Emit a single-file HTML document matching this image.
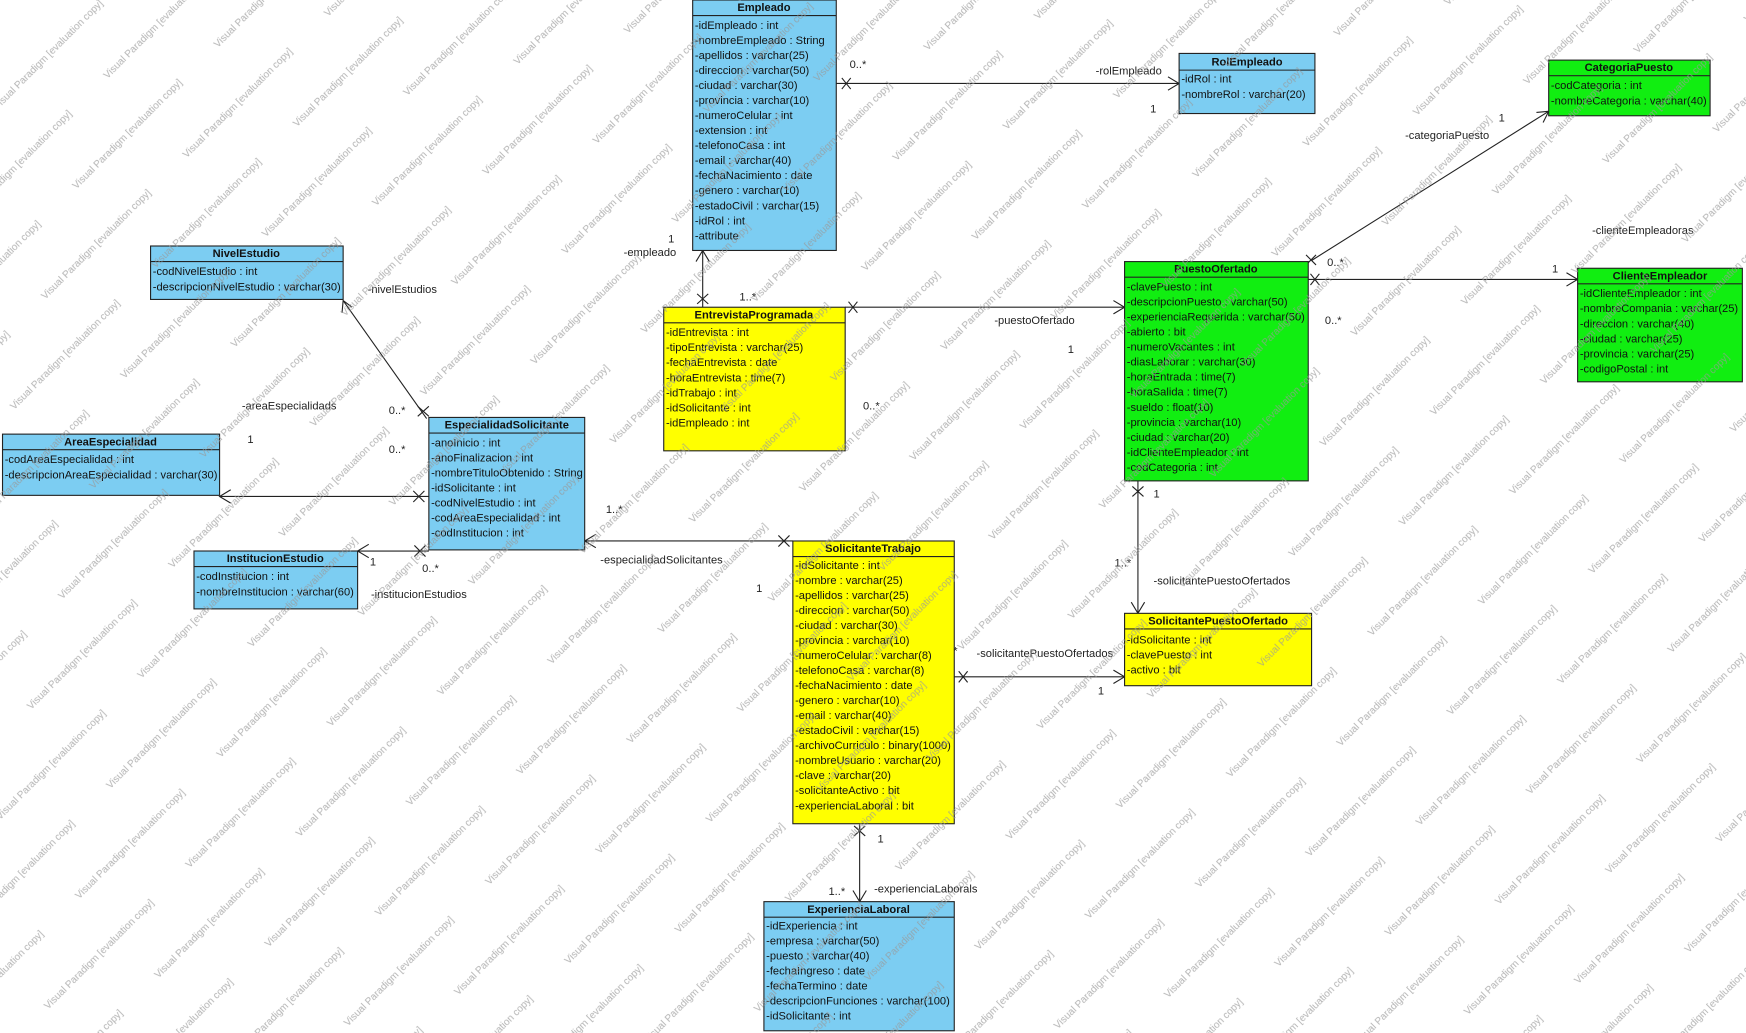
<!DOCTYPE html>
<html><head><meta charset="utf-8"><style>
html,body{margin:0;padding:0;background:#fff;width:1746px;height:1033px;overflow:hidden}
svg{position:absolute;left:0;top:0}
text{font-family:"Liberation Sans",sans-serif}
</style></head><body>
<svg width="1746" height="1033" viewBox="0 0 1568 928" xmlns="http://www.w3.org/2000/svg">
<style>
.b{stroke:#222;stroke-width:1}
.t{font-size:10px;font-weight:bold;text-anchor:middle;fill:#111}
.r{font-size:10px;fill:#111}
.l{font-size:10px;fill:#222}
.ln{stroke:#222;stroke-width:1;fill:none}
</style>
<!-- connectors -->
<g class="ln">
<path d="M751 75H1059"/><path d="M756 70l8 10M764 70l-8 10"/><path d="M1049 69l10 6-10 6"/>
<path d="M631 276V225"/><path d="M626 264l10 9M636 264l-10 9"/><path d="M625 235l6-10 6 10"/>
<path d="M759 276H1010"/><path d="M762 271l8 10M770 271l-8 10"/><path d="M1000 270l10 6-10 6"/>
<path d="M1178 234L1391 100"/><path d="M1173 229l9 9M1182 229l-9 9"/><path d="M1380 101l11-1-5 10"/>
<path d="M1175 251H1417"/><path d="M1177 246l8 10M1185 246l-8 10"/><path d="M1407 245l10 6-10 6"/>
<path d="M1022 432V551"/><path d="M1017 437l10 9M1027 437l-10 9"/><path d="M1016 541l6 10 6-10"/>
<path d="M857 608H1010"/><path d="M861 603l8 10M869 603l-8 10"/><path d="M1000 602l10 6-10 6"/>
<path d="M772 740V810"/><path d="M767 742l10 9M777 742l-10 9"/><path d="M766 800l6 10 6-10"/>
<path d="M712 486H525"/><path d="M699 481l10 10M709 481l-10 10"/><path d="M535 480l-10 6 10 6"/>
<path d="M383 376L308 270"/><path d="M375 365l10 9M385 365l-10 9"/><path d="M307 281l1-11 8 6"/>
<path d="M385 446H197"/><path d="M371 441l10 10M381 441l-10 10"/><path d="M207 440l-10 6 10 6"/>
<path d="M385 495H321"/><path d="M372 490l10 10M382 490l-10 10"/><path d="M331 489l-10 6 10 6"/>
</g>
<g class="l">
<text x="763" y="61">0..*</text><text x="984" y="67">-rolEmpleado</text><text x="1033" y="101">1</text>
<text x="600" y="218">1</text><text x="560" y="230">-empleado</text><text x="664" y="270">1..*</text>
<text x="893" y="291">-puestoOfertado</text><text x="959" y="317">1</text><text x="775" y="368">0..*</text>
<text x="1346" y="109">1</text><text x="1262" y="125">-categoriaPuesto</text><text x="1192" y="239">0..*</text>
<text x="1394" y="245">1</text><text x="1430" y="210">-clienteEmpleadoras</text><text x="1190" y="291">0..*</text>
<text x="1036" y="447">1</text><text x="1001" y="509">1..*</text><text x="1036" y="525">-solicitantePuestoOfertados</text>
<text x="845" y="588">1..*</text><text x="877" y="590">-solicitantePuestoOfertados</text><text x="986" y="624">1</text>
<text x="788" y="757">1</text><text x="744" y="804">1..*</text><text x="785" y="802">-experienciaLaborals</text>
<text x="544" y="461">1..*</text><text x="539" y="506">-especialidadSolicitantes</text><text x="679" y="532">1</text>
<text x="330" y="263">-nivelEstudios</text><text x="349" y="372">0..*</text>
<text x="222" y="398">1</text><text x="217" y="368">-areaEspecialidads</text><text x="349" y="407">0..*</text>
<text x="332" y="508">1</text><text x="379" y="514">0..*</text><text x="333" y="537">-institucionEstudios</text>
</g>
<!-- Empleado -->
<rect class="b" x="622" y="0" width="129" height="225" fill="#7ccdf2"/><path class="b" d="M622 14H751"/>
<text class="t" x="686" y="10">Empleado</text>
<g class="r"><text x="624" y="26">-idEmpleado : int</text><text x="624" y="39.5">-nombreEmpleado : String</text><text x="624" y="53">-apellidos : varchar(25)</text><text x="624" y="66.5">-direccion : varchar(50)</text><text x="624" y="80">-ciudad : varchar(30)</text><text x="624" y="93.5">-provincia : varchar(10)</text><text x="624" y="107">-numeroCelular : int</text><text x="624" y="120.5">-extension : int</text><text x="624" y="134">-telefonoCasa : int</text><text x="624" y="147.5">-email : varchar(40)</text><text x="624" y="161">-fechaNacimiento : date</text><text x="624" y="174.5">-genero : varchar(10)</text><text x="624" y="188">-estadoCivil : varchar(15)</text><text x="624" y="201.5">-idRol : int</text><text x="624" y="215">-attribute</text></g>
<!-- RolEmpleado -->
<rect class="b" x="1059" y="48" width="122" height="54" fill="#7ccdf2"/><path class="b" d="M1059 63H1181"/>
<text class="t" x="1120" y="59">RolEmpleado</text>
<g class="r"><text x="1061" y="74">-idRol : int</text><text x="1061" y="88">-nombreRol : varchar(20)</text></g>
<!-- CategoriaPuesto -->
<rect class="b" x="1391" y="54" width="145" height="50" fill="#11ee11"/><path class="b" d="M1391 68H1536"/>
<text class="t" x="1463" y="64">CategoriaPuesto</text>
<g class="r"><text x="1393" y="80">-codCategoria : int</text><text x="1393" y="94">-nombreCategoria : varchar(40)</text></g>
<!-- ClienteEmpleador -->
<rect class="b" x="1417" y="241" width="148" height="102" fill="#11ee11"/><path class="b" d="M1417 255H1565"/>
<text class="t" x="1491" y="251">ClienteEmpleador</text>
<g class="r"><text x="1419" y="267">-idClienteEmpleador : int</text><text x="1419" y="280.5">-nombreCompania : varchar(25)</text><text x="1419" y="294">-direccion : varchar(40)</text><text x="1419" y="307.5">-ciudad : varchar(25)</text><text x="1419" y="321">-provincia : varchar(25)</text><text x="1419" y="334.5">-codigoPostal : int</text></g>
<!-- PuestoOfertado -->
<rect class="b" x="1010" y="235" width="165" height="197" fill="#11ee11"/><path class="b" d="M1010 249H1175"/>
<text class="t" x="1092" y="245">PuestoOfertado</text>
<g class="r"><text x="1012" y="261">-clavePuesto : int</text><text x="1012" y="274.5">-descripcionPuesto : varchar(50)</text><text x="1012" y="288">-experienciaRequerida : varchar(50)</text><text x="1012" y="301.5">-abierto : bit</text><text x="1012" y="315">-numeroVacantes : int</text><text x="1012" y="328.5">-diasLaborar : varchar(30)</text><text x="1012" y="342">-horaEntrada : time(7)</text><text x="1012" y="355.5">-horaSalida : time(7)</text><text x="1012" y="369">-sueldo : float(10)</text><text x="1012" y="382.5">-provincia : varchar(10)</text><text x="1012" y="396">-ciudad : varchar(20)</text><text x="1012" y="409.5">-idClienteEmpleador : int</text><text x="1012" y="423">-codCategoria : int</text></g>
<!-- EntrevistaProgramada -->
<rect class="b" x="596" y="276" width="163" height="129" fill="#ffff00"/><path class="b" d="M596 290H759"/>
<text class="t" x="677" y="286">EntrevistaProgramada</text>
<g class="r"><text x="598" y="302">-idEntrevista : int</text><text x="598" y="315.5">-tipoEntrevista : varchar(25)</text><text x="598" y="329">-fechaEntrevista : date</text><text x="598" y="342.5">-horaEntrevista : time(7)</text><text x="598" y="356">-idTrabajo : int</text><text x="598" y="369.5">-idSolicitante : int</text><text x="598" y="383">-idEmpleado : int</text></g>
<!-- NivelEstudio -->
<rect class="b" x="135" y="221" width="173" height="48" fill="#7ccdf2"/><path class="b" d="M135 235H308"/>
<text class="t" x="221" y="231">NivelEstudio</text>
<g class="r"><text x="137" y="247">-codNivelEstudio : int</text><text x="137" y="261">-descripcionNivelEstudio : varchar(30)</text></g>
<!-- AreaEspecialidad -->
<rect class="b" x="2" y="390" width="195" height="55" fill="#7ccdf2"/><path class="b" d="M2 404H197"/>
<text class="t" x="99" y="400">AreaEspecialidad</text>
<g class="r"><text x="4" y="416">-codAreaEspecialidad : int</text><text x="4" y="430">-descripcionAreaEspecialidad : varchar(30)</text></g>
<!-- EspecialidadSolicitante -->
<rect class="b" x="385" y="375" width="140" height="119" fill="#7ccdf2"/><path class="b" d="M385 389H525"/>
<text class="t" x="455" y="385">EspecialidadSolicitante</text>
<g class="r"><text x="387" y="401">-anoInicio : int</text><text x="387" y="414.5">-anoFinalizacion : int</text><text x="387" y="428">-nombreTituloObtenido : String</text><text x="387" y="441.5">-idSolicitante : int</text><text x="387" y="455">-codNivelEstudio : int</text><text x="387" y="468.5">-codAreaEspecialidad : int</text><text x="387" y="482">-codInstitucion : int</text></g>
<!-- InstitucionEstudio -->
<rect class="b" x="174" y="495" width="147" height="52" fill="#7ccdf2"/><path class="b" d="M174 509H321"/>
<text class="t" x="247" y="505">InstitucionEstudio</text>
<g class="r"><text x="176" y="521">-codInstitucion : int</text><text x="176" y="535">-nombreInstitucion : varchar(60)</text></g>
<!-- SolicitanteTrabajo -->
<rect class="b" x="712" y="486" width="145" height="254" fill="#ffff00"/><path class="b" d="M712 500H857"/>
<text class="t" x="784" y="496">SolicitanteTrabajo</text>
<g class="r"><text x="714" y="511">-idSolicitante : int</text><text x="714" y="524.5">-nombre : varchar(25)</text><text x="714" y="538">-apellidos : varchar(25)</text><text x="714" y="551.5">-direccion : varchar(50)</text><text x="714" y="565">-ciudad : varchar(30)</text><text x="714" y="578.5">-provincia : varchar(10)</text><text x="714" y="592">-numeroCelular : varchar(8)</text><text x="714" y="605.5">-telefonoCasa : varchar(8)</text><text x="714" y="619">-fechaNacimiento : date</text><text x="714" y="632.5">-genero : varchar(10)</text><text x="714" y="646">-email : varchar(40)</text><text x="714" y="659.5">-estadoCivil : varchar(15)</text><text x="714" y="673">-archivoCurriculo : binary(1000)</text><text x="714" y="686.5">-nombreUsuario : varchar(20)</text><text x="714" y="700">-clave : varchar(20)</text><text x="714" y="713.5">-solicitanteActivo : bit</text><text x="714" y="727">-experienciaLaboral : bit</text></g>
<!-- SolicitantePuestoOfertado -->
<rect class="b" x="1010" y="551" width="168" height="65" fill="#ffff00"/><path class="b" d="M1010 565H1178"/>
<text class="t" x="1094" y="561">SolicitantePuestoOfertado</text>
<g class="r"><text x="1012" y="578">-idSolicitante : int</text><text x="1012" y="591.5">-clavePuesto : int</text><text x="1012" y="605">-activo : bit</text></g>
<!-- ExperienciaLaboral -->
<rect class="b" x="686" y="810" width="171" height="116" fill="#7ccdf2"/><path class="b" d="M686 824H857"/>
<text class="t" x="771" y="820">ExperienciaLaboral</text>
<g class="r"><text x="688" y="835">-idExperiencia : int</text><text x="688" y="848.5">-empresa : varchar(50)</text><text x="688" y="862">-puesto : varchar(40)</text><text x="688" y="875.5">-fechaIngreso : date</text><text x="688" y="889">-fechaTermino : date</text><text x="688" y="902.5">-descripcionFunciones : varchar(100)</text><text x="688" y="916">-idSolicitante : int</text></g>
</svg>
<svg width="1746" height="1033" xmlns="http://www.w3.org/2000/svg">
<defs><pattern id="wm" width="200" height="112" patternUnits="userSpaceOnUse" patternTransform="rotate(-45)">
<g font-family="Liberation Sans,sans-serif" font-size="10" fill="#999">
<text x="20" y="20">Visual Paradigm [evaluation copy]</text>
<text x="120" y="76">Visual Paradigm [evaluation copy]</text>
<text x="-80" y="76">Visual Paradigm [evaluation copy]</text>
</g>
</pattern></defs>
<rect width="1746" height="1033" fill="url(#wm)" opacity="0.75"/>
</svg>
</body></html>
